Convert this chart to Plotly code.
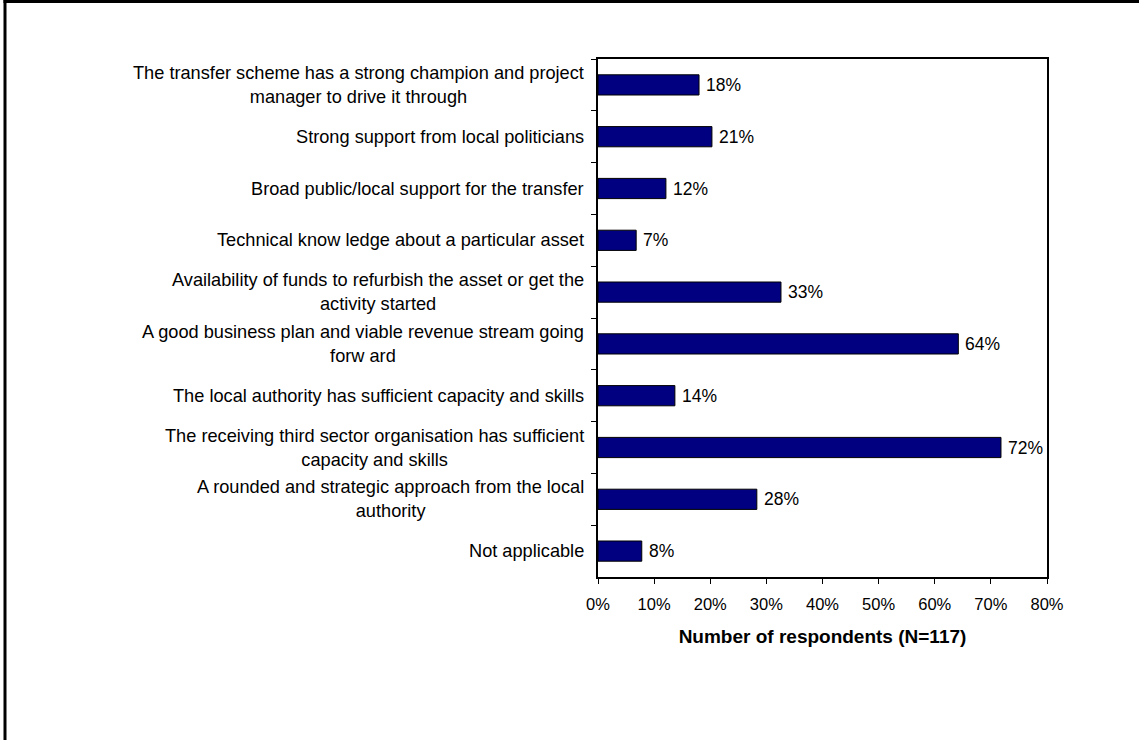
import plotly.graph_objects as go

categories = [
    "The transfer scheme has a strong champion and project<br>manager to drive it through",
    "Strong support from local politicians",
    "Broad public/local support for the transfer",
    "Technical know ledge about a particular asset",
    "Availability of funds to refurbish the asset or get the<br>activity started",
    "A good business plan and viable revenue stream going<br>forw ard",
    "The local authority has sufficient capacity and skills",
    "The receiving third sector organisation has sufficient<br>capacity and skills",
    "A rounded and strategic approach from the local<br>authority",
    "Not applicable",
]
values = [0.180, 0.203, 0.121, 0.068, 0.326, 0.642, 0.137, 0.718, 0.283, 0.078]
value_labels = ["18%", "21%", "12%", "7%", "33%", "64%", "14%", "72%", "28%", "8%"]
x_tickvals = [0, 0.1, 0.2, 0.3, 0.4, 0.5, 0.6, 0.7, 0.8]
x_title = "Number of respondents (N=117)"

W, H = 1139, 740
ML, MR, MT, MB = 598, 92, 59, 163
PW = W - ML - MR
PH = H - MT - MB
FONT = "Liberation Sans, Arial, sans-serif"

fig = go.Figure()
fig.add_trace(go.Bar(
    x=values, y=categories, orientation="h",
    marker=dict(color="#000080", line=dict(color="black", width=1)),
    hoverinfo="skip",
))

annotations = []
for c in categories:
    annotations.append(dict(
        x=0, xref="paper", y=c, yref="y", text=c, showarrow=False,
        xanchor="right", yanchor="middle", align="center", xshift=-12,
        font=dict(family=FONT, size=18.2, color="black"),
    ))
for v, lab, c in zip(values, value_labels, categories):
    annotations.append(dict(
        x=v, xref="x", y=c, yref="y", text=lab, showarrow=False,
        xanchor="left", yanchor="middle", xshift=5,
        font=dict(family=FONT, size=17.5, color="black"),
    ))

def px_x(p):
    return (p - ML) / PW

def px_y(p):
    return 1 - (p - MT) / PH

shapes = [
    dict(type="line", xref="paper", yref="paper",
         x0=px_x(5), x1=px_x(5), y0=px_y(0), y1=px_y(H + 5),
         line=dict(color="black", width=3)),
    dict(type="line", xref="paper", yref="paper",
         x0=px_x(3.5), x1=px_x(W + 5), y0=px_y(1.5), y1=px_y(1.5),
         line=dict(color="black", width=3)),
]

fig.update_layout(
    width=W, height=H,
    margin=dict(l=ML, r=MR, t=MT, b=MB, pad=0),
    paper_bgcolor="white", plot_bgcolor="white",
    showlegend=False,
    bargap=0.61,
    annotations=annotations,
    shapes=shapes,
    font=dict(family=FONT, color="black"),
)
fig.update_xaxes(
    range=[0, 0.8], tickvals=x_tickvals, tickformat=".0%",
    ticks="outside", ticklen=5, tickcolor="black", tickwidth=1,
    ticklabelstandoff=6,
    showline=True, linecolor="black", linewidth=1.5, mirror=True,
    showgrid=False, zeroline=False,
    tickfont=dict(family=FONT, size=16.5, color="black"),
    title=dict(text="<b>" + x_title + "</b>", standoff=18,
               font=dict(family=FONT, size=19, color="black")),
)
fig.update_yaxes(
    autorange="reversed", tickson="boundaries",
    ticks="outside", ticklen=5, tickcolor="black", tickwidth=1,
    showticklabels=False,
    showline=True, linecolor="black", linewidth=1.5, mirror=True,
    showgrid=False, zeroline=False,
)

fig.write_html("out.html")
